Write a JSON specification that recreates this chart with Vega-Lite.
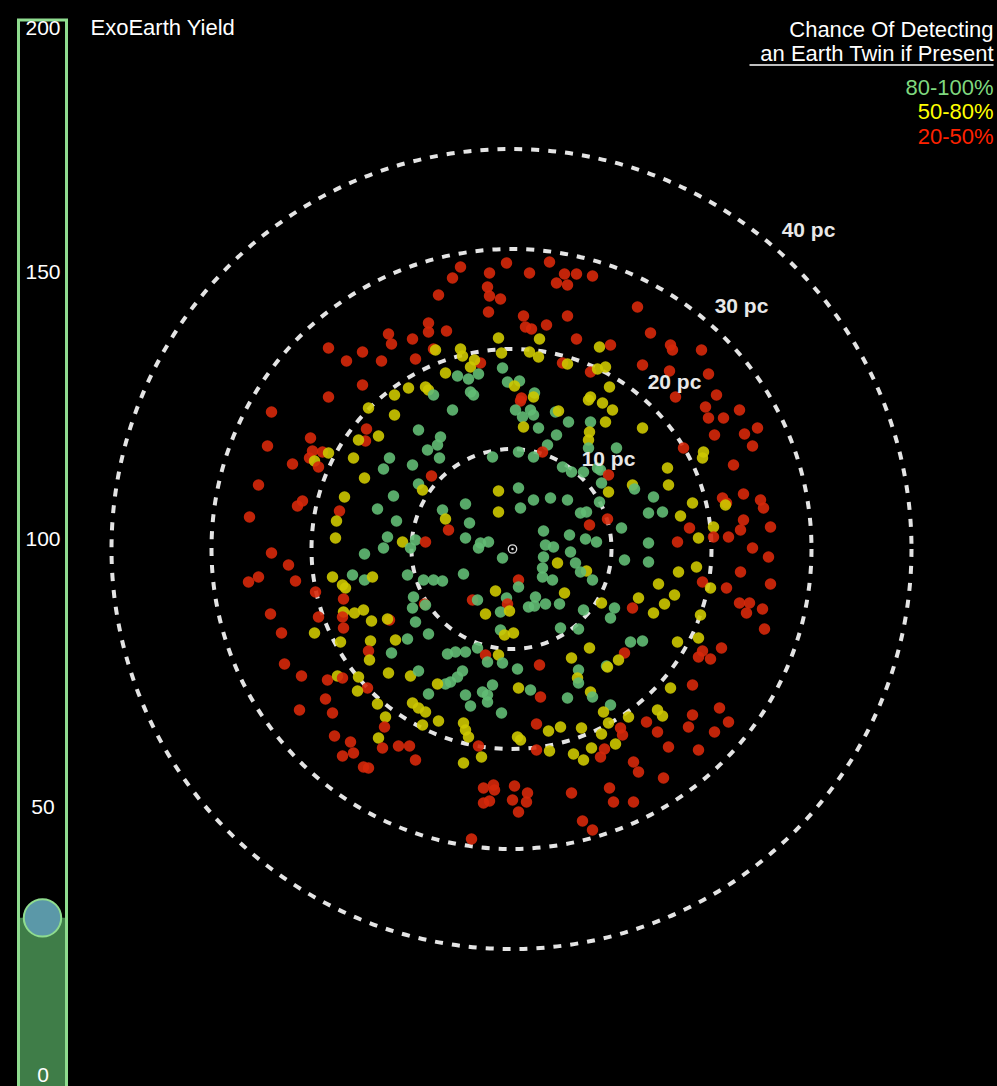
{
"$schema":"https://vega.github.io/schema/vega-lite/v6.json",
"background":"black",
"autosize":{"type":"pad"},
"padding":{"left":16.5,"top":0,"right":0,"bottom":0},
"spacing":0,
"bounds":"flush",
"config":{"view":{"stroke":null},"font":"Liberation Sans","text":{"font":"Liberation Sans"}},
"datasets":{
"pts":[
{"x":-12.3,"y":21.5,"c":"r"},{"x":-12.0,"y":20.5,"c":"r"},{"x":-9.9,"y":21.0,"c":"r"},{"x":-18.3,"y":20.1,"c":"r"},{"x":-14.9,"y":19.7,"c":"r"},{"x":-16.5,"y":18.8,"c":"r"},{"x":-13.0,"y":18.8,"c":"r"},{"x":-9.6,"y":19.0,"c":"r"},{"x":-14.9,"y":16.4,"c":"r"},{"x":-18.3,"y":15.2,"c":"r"},{"x":-10.3,"y":16.1,"c":"y"},{"x":-11.7,"y":15.4,"c":"y"},
{"x":-0.5,"y":28.6,"c":"r"},{"x":-5.1,"y":28.2,"c":"r"},{"x":3.8,"y":28.7,"c":"r"},{"x":-5.9,"y":27.1,"c":"r"},{"x":-2.2,"y":27.6,"c":"r"},{"x":1.8,"y":27.6,"c":"r"},{"x":5.3,"y":27.5,"c":"r"},{"x":6.5,"y":27.5,"c":"r"},{"x":8.1,"y":27.3,"c":"r"},{"x":4.5,"y":26.6,"c":"r"},{"x":5.6,"y":26.4,"c":"r"},{"x":-2.4,"y":26.2,"c":"r"},{"x":-2.2,"y":25.3,"c":"r"},{"x":-1.1,"y":25.0,"c":"r"},{"x":-7.3,"y":25.4,"c":"r"},{"x":-2.3,"y":23.7,"c":"r"},{"x":1.2,"y":23.3,"c":"r"},{"x":5.6,"y":23.3,"c":"r"},{"x":-8.3,"y":22.6,"c":"r"},{"x":1.4,"y":22.2,"c":"r"},{"x":2.0,"y":22.0,"c":"r"},{"x":3.5,"y":22.4,"c":"r"},{"x":-8.3,"y":21.7,"c":"r"},{"x":-6.5,"y":21.8,"c":"r"},{"x":6.5,"y":21.0,"c":"r"},{"x":-1.3,"y":21.1,"c":"y"},{"x":2.8,"y":21.0,"c":"y"},{"x":-7.8,"y":20.0,"c":"r"},{"x":-7.6,"y":19.9,"c":"y"},{"x":-5.1,"y":20.0,"c":"y"},{"x":-4.9,"y":19.3,"c":"y"},{"x":-1.0,"y":19.6,"c":"y"},{"x":1.8,"y":19.7,"c":"y"},{"x":2.7,"y":19.2,"c":"y"},{"x":-4.1,"y":18.2,"c":"y"},{"x":-3.1,"y":18.6,"c":"r"},{"x":-3.7,"y":18.9,"c":"y"},{"x":5.1,"y":18.6,"c":"r"},{"x":5.6,"y":18.5,"c":"y"},{"x":7.9,"y":17.7,"c":"r"},{"x":8.6,"y":18.0,"c":"y"},{"x":8.8,"y":20.2,"c":"y"},{"x":-6.6,"y":17.6,"c":"y"},{"x":-0.9,"y":18.1,"c":"g"},{"x":-5.4,"y":17.3,"c":"g"},{"x":-4.3,"y":17.0,"c":"g"},{"x":-3.3,"y":17.5,"c":"g"},{"x":-0.4,"y":16.7,"c":"g"},{"x":0.8,"y":16.8,"c":"g"},{"x":0.3,"y":16.3,"c":"y"},{"x":-8.6,"y":16.2,"c":"y"},{"x":-8.3,"y":15.9,"c":"y"},{"x":-7.8,"y":15.4,"c":"g"},{"x":-4.1,"y":15.7,"c":"g"},{"x":-3.8,"y":15.4,"c":"g"},{"x":2.3,"y":15.6,"c":"g"},{"x":2.2,"y":15.2,"c":"y"},{"x":1.0,"y":15.1,"c":"r"},{"x":7.9,"y":15.2,"c":"y"},
{"x":12.6,"y":24.2,"c":"r"},{"x":13.9,"y":21.6,"c":"r"},{"x":15.9,"y":20.4,"c":"r"},{"x":16.1,"y":19.9,"c":"r"},{"x":19.0,"y":19.9,"c":"r"},{"x":13.1,"y":18.4,"c":"r"},{"x":15.8,"y":17.8,"c":"r"},{"x":19.7,"y":17.5,"c":"r"},{"x":20.5,"y":15.4,"c":"r"},{"x":16.4,"y":15.2,"c":"r"},{"x":9.9,"y":20.4,"c":"r"},{"x":9.4,"y":18.2,"c":"y"},{"x":9.8,"y":16.2,"c":"y"},
{"x":-24.0,"y":13.7,"c":"r"},{"x":-14.3,"y":14.1,"c":"y"},{"x":-11.7,"y":13.4,"c":"y"},{"x":-14.5,"y":12.0,"c":"r"},{"x":-14.6,"y":10.8,"c":"r"},{"x":-15.3,"y":10.9,"c":"y"},{"x":-13.3,"y":11.3,"c":"y"},{"x":-20.1,"y":11.1,"c":"r"},{"x":-24.4,"y":10.3,"c":"r"},{"x":-19.9,"y":9.8,"c":"r"},{"x":-18.9,"y":9.7,"c":"r"},{"x":-18.3,"y":9.6,"c":"y"},{"x":-20.2,"y":9.1,"c":"r"},{"x":-19.7,"y":8.8,"c":"y"},{"x":-19.3,"y":8.2,"c":"r"},{"x":-21.9,"y":8.5,"c":"r"},{"x":-15.8,"y":9.1,"c":"y"},{"x":-12.2,"y":9.1,"c":"g"},{"x":-12.8,"y":8.0,"c":"g"},{"x":-9.9,"y":8.4,"c":"g"},{"x":-9.3,"y":11.9,"c":"g"},{"x":-14.7,"y":7.1,"c":"y"},{"x":-9.3,"y":6.5,"c":"g"},{"x":-25.3,"y":6.4,"c":"r"},{"x":-20.9,"y":4.8,"c":"r"},{"x":-21.4,"y":4.3,"c":"r"},{"x":-16.7,"y":5.2,"c":"y"},{"x":-11.8,"y":5.3,"c":"g"},{"x":-13.4,"y":4.0,"c":"g"},{"x":-17.2,"y":3.8,"c":"r"},{"x":-17.5,"y":2.8,"c":"y"},{"x":-11.5,"y":2.8,"c":"g"},{"x":-26.2,"y":3.2,"c":"r"},{"x":-17.6,"y":1.1,"c":"y"},{"x":-12.4,"y":1.2,"c":"g"},{"x":-10.9,"y":0.7,"c":"y"},{"x":-9.6,"y":0.9,"c":"g"},{"x":-12.8,"y":0.1,"c":"g"},
{"x":-5.9,"y":13.9,"c":"g"},{"x":0.9,"y":14.8,"c":"r"},{"x":0.4,"y":13.9,"c":"g"},{"x":1.1,"y":13.2,"c":"g"},{"x":1.9,"y":13.9,"c":"g"},{"x":2.2,"y":13.4,"c":"g"},{"x":4.4,"y":13.7,"c":"g"},{"x":4.7,"y":13.8,"c":"y"},{"x":5.7,"y":12.7,"c":"g"},{"x":1.2,"y":12.2,"c":"y"},{"x":2.7,"y":12.1,"c":"g"},{"x":4.5,"y":11.4,"c":"g"},{"x":-7.1,"y":11.2,"c":"g"},{"x":-7.4,"y":10.4,"c":"g"},{"x":-8.4,"y":9.9,"c":"g"},{"x":-7.2,"y":9.1,"c":"g"},{"x":-1.9,"y":9.2,"c":"g"},{"x":0.7,"y":9.7,"c":"g"},{"x":3.6,"y":10.4,"c":"g"},{"x":3.1,"y":9.7,"c":"r"},{"x":2.2,"y":9.2,"c":"g"},{"x":7.9,"y":12.7,"c":"g"},{"x":7.8,"y":11.7,"c":"y"},{"x":7.7,"y":10.9,"c":"y"},{"x":7.7,"y":14.9,"c":"y"},{"x":7.7,"y":10.1,"c":"g"},{"x":5.1,"y":8.2,"c":"g"},{"x":6.0,"y":7.7,"c":"g"},{"x":7.2,"y":7.7,"c":"g"},{"x":8.6,"y":8.1,"c":"g"},{"x":-8.0,"y":7.3,"c":"r"},{"x":-8.9,"y":5.9,"c":"y"},{"x":0.7,"y":6.1,"c":"g"},{"x":-1.3,"y":5.8,"c":"y"},{"x":-4.6,"y":4.5,"c":"g"},{"x":0.9,"y":4.1,"c":"g"},{"x":2.2,"y":4.9,"c":"g"},{"x":3.9,"y":5.1,"c":"g"},{"x":5.6,"y":4.9,"c":"g"},{"x":-1.3,"y":3.7,"c":"y"},{"x":-6.9,"y":3.9,"c":"g"},{"x":-6.6,"y":3.0,"c":"y"},{"x":6.9,"y":3.6,"c":"g"},{"x":7.5,"y":3.7,"c":"g"},{"x":-6.3,"y":1.9,"c":"r"},{"x":-4.2,"y":2.6,"c":"g"},{"x":7.8,"y":2.4,"c":"r"},{"x":3.2,"y":1.8,"c":"g"},{"x":5.8,"y":1.4,"c":"g"},{"x":-4.6,"y":1.1,"c":"g"},{"x":7.4,"y":1.0,"c":"g"},{"x":8.5,"y":0.7,"c":"g"},{"x":-8.6,"y":0.7,"c":"r"},{"x":-3.1,"y":0.6,"c":"g"},{"x":-2.3,"y":0.7,"c":"g"},{"x":3.4,"y":0.4,"c":"g"},{"x":4.2,"y":0.2,"c":"g"},
{"x":9.1,"y":14.6,"c":"y"},{"x":10.1,"y":13.9,"c":"y"},{"x":9.4,"y":12.7,"c":"y"},{"x":13.1,"y":12.1,"c":"y"},{"x":19.4,"y":14.2,"c":"r"},{"x":19.7,"y":13.1,"c":"r"},{"x":21.2,"y":13.1,"c":"r"},{"x":22.8,"y":13.9,"c":"r"},{"x":24.6,"y":12.1,"c":"r"},{"x":20.3,"y":11.4,"c":"r"},{"x":23.3,"y":11.5,"c":"r"},{"x":24.1,"y":10.3,"c":"r"},{"x":17.2,"y":10.1,"c":"r"},{"x":19.2,"y":9.7,"c":"y"},{"x":19.1,"y":9.1,"c":"y"},{"x":10.5,"y":10.1,"c":"g"},{"x":22.2,"y":8.4,"c":"r"},{"x":15.6,"y":8.1,"c":"y"},{"x":8.9,"y":7.9,"c":"g"},{"x":9.7,"y":7.4,"c":"r"},{"x":9.0,"y":6.6,"c":"g"},{"x":15.7,"y":6.4,"c":"y"},{"x":12.1,"y":6.4,"c":"y"},{"x":12.3,"y":6.0,"c":"g"},{"x":9.7,"y":5.7,"c":"y"},{"x":14.2,"y":5.2,"c":"g"},{"x":18.1,"y":4.6,"c":"y"},{"x":21.1,"y":5.1,"c":"r"},{"x":21.5,"y":4.6,"c":"r"},{"x":21.4,"y":4.4,"c":"y"},{"x":23.2,"y":5.5,"c":"r"},{"x":24.9,"y":4.9,"c":"r"},{"x":25.2,"y":4.1,"c":"r"},{"x":8.8,"y":4.7,"c":"g"},{"x":13.7,"y":3.6,"c":"g"},{"x":15.1,"y":3.7,"c":"g"},{"x":16.9,"y":3.3,"c":"y"},{"x":9.6,"y":3.0,"c":"r"},{"x":11.0,"y":2.1,"c":"g"},{"x":17.8,"y":2.1,"c":"r"},{"x":20.2,"y":2.2,"c":"y"},{"x":20.2,"y":1.2,"c":"r"},{"x":21.7,"y":1.2,"c":"r"},{"x":23.2,"y":2.9,"c":"r"},{"x":22.9,"y":1.9,"c":"r"},{"x":25.9,"y":2.2,"c":"r"},{"x":18.7,"y":1.1,"c":"y"},{"x":16.6,"y":0.7,"c":"r"},{"x":13.7,"y":0.6,"c":"g"},{"x":24.1,"y":0.1,"c":"r"},
{"x":-24.0,"y":-0.4,"c":"r"},{"x":-22.3,"y":-1.6,"c":"r"},{"x":-26.3,"y":-3.3,"c":"r"},{"x":-25.3,"y":-2.8,"c":"r"},{"x":-21.6,"y":-3.2,"c":"r"},{"x":-14.7,"y":-0.5,"c":"g"},{"x":-10.1,"y":0.1,"c":"g"},{"x":-17.9,"y":-2.8,"c":"y"},{"x":-15.9,"y":-2.6,"c":"g"},{"x":-16.9,"y":-3.6,"c":"y"},{"x":-16.6,"y":-3.9,"c":"y"},{"x":-14.7,"y":-3.1,"c":"g"},{"x":-13.9,"y":-2.8,"c":"y"},{"x":-10.4,"y":-2.6,"c":"g"},{"x":-19.6,"y":-4.3,"c":"r"},{"x":-16.8,"y":-5.0,"c":"r"},{"x":-9.8,"y":-4.8,"c":"g"},{"x":-9.9,"y":-5.9,"c":"g"},{"x":-16.8,"y":-6.3,"c":"y"},{"x":-15.7,"y":-6.4,"c":"y"},{"x":-14.8,"y":-6.1,"c":"y"},{"x":-16.9,"y":-6.8,"c":"r"},{"x":-19.3,"y":-6.8,"c":"r"},{"x":-14.0,"y":-7.2,"c":"y"},{"x":-12.2,"y":-7.1,"c":"r"},{"x":-12.4,"y":-7.0,"c":"y"},{"x":-9.6,"y":-7.3,"c":"g"},{"x":-16.8,"y":-7.9,"c":"r"},{"x":-19.7,"y":-8.4,"c":"y"},{"x":-24.1,"y":-6.5,"c":"r"},{"x":-23.0,"y":-8.4,"c":"r"},{"x":-17.1,"y":-9.3,"c":"y"},{"x":-14.1,"y":-9.2,"c":"y"},{"x":-11.6,"y":-9.1,"c":"y"},{"x":-10.4,"y":-9.0,"c":"g"},{"x":-14.3,"y":-10.2,"c":"r"},{"x":-14.2,"y":-11.1,"c":"y"},{"x":-12.0,"y":-10.4,"c":"g"},{"x":-22.7,"y":-11.5,"c":"r"},{"x":-21.0,"y":-12.7,"c":"r"},{"x":-18.4,"y":-13.1,"c":"r"},{"x":-17.4,"y":-12.7,"c":"y"},{"x":-16.9,"y":-12.9,"c":"r"},{"x":-15.3,"y":-12.8,"c":"y"},{"x":-14.4,"y":-13.9,"c":"r"},{"x":-15.4,"y":-14.2,"c":"y"},{"x":-12.3,"y":-12.4,"c":"y"},{"x":-10.1,"y":-12.7,"c":"y"},{"x":-9.3,"y":-12.2,"c":"g"},{"x":-18.6,"y":-15.0,"c":"r"},
{"x":-3.3,"y":0.1,"c":"g"},{"x":-0.9,"y":-0.9,"c":"g"},{"x":3.2,"y":-0.8,"c":"g"},{"x":5.9,"y":-0.3,"c":"g"},{"x":3.1,"y":-1.9,"c":"g"},{"x":4.1,"y":-3.1,"c":"g"},{"x":3.1,"y":-2.8,"c":"g"},{"x":4.6,"y":-1.4,"c":"y"},{"x":6.4,"y":-1.4,"c":"g"},{"x":7.5,"y":-2.2,"c":"y"},{"x":6.9,"y":-2.3,"c":"g"},{"x":8.1,"y":-3.1,"c":"g"},{"x":-4.8,"y":-2.5,"c":"g"},{"x":-8.8,"y":-3.1,"c":"g"},{"x":-7.8,"y":-3.1,"c":"g"},{"x":-6.9,"y":-3.2,"c":"g"},{"x":0.7,"y":-3.1,"c":"r"},{"x":0.7,"y":-3.8,"c":"g"},{"x":-1.6,"y":-4.2,"c":"y"},{"x":2.4,"y":-4.8,"c":"g"},{"x":1.7,"y":-5.8,"c":"g"},{"x":2.3,"y":-5.7,"c":"g"},{"x":3.4,"y":-5.5,"c":"g"},{"x":4.8,"y":-5.5,"c":"g"},{"x":5.3,"y":-4.4,"c":"y"},{"x":-3.9,"y":-5.1,"c":"r"},{"x":-3.4,"y":-5.1,"c":"g"},{"x":-0.5,"y":-4.9,"c":"g"},{"x":-0.4,"y":-5.5,"c":"r"},{"x":-2.6,"y":-6.5,"c":"y"},{"x":-1.1,"y":-6.3,"c":"g"},{"x":-0.2,"y":-6.2,"c":"y"},{"x":7.2,"y":-6.1,"c":"g"},{"x":-8.7,"y":-5.5,"c":"r"},{"x":-8.6,"y":-5.6,"c":"g"},{"x":-8.3,"y":-8.5,"c":"g"},{"x":-1.1,"y":-8.1,"c":"g"},{"x":-0.7,"y":-8.6,"c":"y"},{"x":0.2,"y":-8.4,"c":"y"},{"x":4.9,"y":-7.9,"c":"g"},{"x":6.7,"y":-8.0,"c":"g"},{"x":-3.4,"y":-9.9,"c":"g"},{"x":-4.6,"y":-10.3,"c":"g"},{"x":-5.6,"y":-10.3,"c":"g"},{"x":-6.4,"y":-10.5,"c":"g"},{"x":-2.6,"y":-10.6,"c":"r"},{"x":-2.4,"y":-11.3,"c":"g"},{"x":-1.3,"y":-10.6,"c":"y"},{"x":-0.9,"y":-11.4,"c":"g"},{"x":2.8,"y":-11.6,"c":"r"},{"x":6.0,"y":-10.9,"c":"y"},{"x":7.8,"y":-9.9,"c":"y"},{"x":0.6,"y":-12.0,"c":"g"},{"x":-4.9,"y":-12.2,"c":"g"},{"x":-5.4,"y":-12.8,"c":"g"},{"x":-6.1,"y":-13.3,"c":"g"},{"x":-6.6,"y":-13.5,"c":"g"},{"x":-7.4,"y":-13.5,"c":"y"},{"x":-8.3,"y":-14.5,"c":"g"},{"x":-4.6,"y":-14.6,"c":"g"},{"x":-1.9,"y":-13.6,"c":"g"},{"x":-2.9,"y":-14.3,"c":"g"},{"x":-2.4,"y":-14.6,"c":"g"},{"x":0.7,"y":-13.9,"c":"y"},{"x":1.9,"y":-14.1,"c":"g"},{"x":6.7,"y":-12.1,"c":"g"},{"x":6.6,"y":-12.9,"c":"y"},{"x":6.7,"y":-13.4,"c":"g"},{"x":7.9,"y":-14.3,"c":"y"},{"x":2.9,"y":-14.8,"c":"r"},{"x":5.6,"y":-14.9,"c":"g"},
{"x":11.3,"y":-1.1,"c":"g"},{"x":13.7,"y":-1.3,"c":"g"},{"x":16.7,"y":-2.3,"c":"y"},{"x":18.5,"y":-1.8,"c":"y"},{"x":19.1,"y":-3.3,"c":"r"},{"x":19.9,"y":-3.9,"c":"y"},{"x":21.5,"y":-3.9,"c":"r"},{"x":25.7,"y":-0.8,"c":"r"},{"x":22.9,"y":-2.3,"c":"r"},{"x":25.9,"y":-3.5,"c":"r"},{"x":22.8,"y":-5.4,"c":"r"},{"x":23.8,"y":-5.4,"c":"r"},{"x":23.5,"y":-6.4,"c":"r"},{"x":25.1,"y":-6.0,"c":"r"},{"x":25.3,"y":-8.0,"c":"r"},{"x":14.7,"y":-3.5,"c":"y"},{"x":16.3,"y":-4.6,"c":"y"},{"x":12.7,"y":-4.9,"c":"y"},{"x":15.3,"y":-5.5,"c":"y"},{"x":14.2,"y":-6.4,"c":"y"},{"x":12.1,"y":-5.9,"c":"r"},{"x":9.0,"y":-5.4,"c":"y"},{"x":10.3,"y":-5.9,"c":"g"},{"x":9.9,"y":-6.9,"c":"g"},{"x":18.9,"y":-6.6,"c":"y"},{"x":18.7,"y":-8.9,"c":"y"},{"x":16.6,"y":-9.3,"c":"y"},{"x":11.9,"y":-9.3,"c":"g"},{"x":13.1,"y":-9.2,"c":"g"},{"x":11.3,"y":-10.4,"c":"r"},{"x":10.7,"y":-11.1,"c":"y"},{"x":9.5,"y":-11.7,"c":"g"},{"x":9.6,"y":-11.8,"c":"y"},{"x":19.1,"y":-10.2,"c":"r"},{"x":18.7,"y":-10.8,"c":"r"},{"x":19.9,"y":-11.0,"c":"r"},{"x":21.0,"y":-9.9,"c":"r"},{"x":15.9,"y":-13.9,"c":"y"},{"x":18.1,"y":-13.6,"c":"r"},
{"x":-21.2,"y":-16.1,"c":"r"},{"x":-17.9,"y":-16.4,"c":"r"},{"x":-17.7,"y":-18.7,"c":"r"},{"x":-16.1,"y":-19.3,"c":"r"},{"x":-16.9,"y":-20.7,"c":"r"},{"x":-15.8,"y":-20.4,"c":"r"},{"x":-14.8,"y":-21.8,"c":"r"},{"x":-14.3,"y":-21.9,"c":"r"},{"x":-13.4,"y":-15.5,"c":"y"},{"x":-12.6,"y":-16.8,"c":"y"},{"x":-12.7,"y":-17.8,"c":"r"},{"x":-13.3,"y":-18.9,"c":"y"},{"x":-12.9,"y":-19.9,"c":"r"},{"x":-11.3,"y":-19.7,"c":"r"},{"x":-10.2,"y":-19.7,"c":"r"},{"x":-9.6,"y":-21.1,"c":"r"},{"x":-9.9,"y":-15.4,"c":"y"},{"x":-9.3,"y":-15.9,"c":"y"},
{"x":-4.1,"y":-15.7,"c":"g"},{"x":-2.4,"y":-15.3,"c":"g"},{"x":-1.0,"y":-16.4,"c":"g"},{"x":8.1,"y":-14.8,"c":"g"},{"x":-8.6,"y":-16.3,"c":"y"},{"x":-7.3,"y":-17.2,"c":"y"},{"x":-8.9,"y":-17.6,"c":"y"},{"x":-4.8,"y":-17.4,"c":"y"},{"x":-4.6,"y":-18.1,"c":"y"},{"x":-4.3,"y":-18.8,"c":"y"},{"x":-3.3,"y":-19.7,"c":"r"},{"x":-3.0,"y":-20.8,"c":"y"},{"x":-4.8,"y":-21.4,"c":"y"},{"x":2.5,"y":-17.5,"c":"r"},{"x":3.7,"y":-18.2,"c":"y"},{"x":4.9,"y":-17.8,"c":"y"},{"x":0.6,"y":-18.8,"c":"y"},{"x":0.9,"y":-19.1,"c":"y"},{"x":2.5,"y":-20.1,"c":"r"},{"x":3.8,"y":-20.2,"c":"y"},{"x":7.0,"y":-17.9,"c":"y"},{"x":6.2,"y":-20.5,"c":"y"},{"x":7.2,"y":-21.1,"c":"y"},{"x":8.0,"y":-19.9,"c":"y"},{"x":8.9,"y":-20.8,"c":"r"},{"x":-1.8,"y":-23.6,"c":"r"},{"x":-1.7,"y":-24.1,"c":"r"},{"x":-2.8,"y":-23.9,"c":"r"},{"x":0.3,"y":-23.7,"c":"r"},{"x":1.6,"y":-24.4,"c":"r"},{"x":0.1,"y":-25.1,"c":"r"},{"x":-2.8,"y":-25.4,"c":"r"},{"x":-2.2,"y":-25.2,"c":"r"},{"x":1.5,"y":-25.3,"c":"r"},{"x":0.7,"y":-26.3,"c":"r"},{"x":6.0,"y":-24.4,"c":"r"},{"x":7.1,"y":-27.2,"c":"r"},{"x":8.1,"y":-28.1,"c":"r"},{"x":-4.0,"y":-29.0,"c":"r"},
{"x":9.9,"y":-15.6,"c":"g"},{"x":9.2,"y":-16.3,"c":"y"},{"x":11.7,"y":-16.8,"c":"y"},{"x":14.6,"y":-16.1,"c":"y"},{"x":15.1,"y":-16.7,"c":"y"},{"x":9.7,"y":-17.4,"c":"y"},{"x":9.0,"y":-18.5,"c":"y"},{"x":10.9,"y":-17.9,"c":"r"},{"x":11.1,"y":-18.6,"c":"r"},{"x":10.4,"y":-19.5,"c":"y"},{"x":9.3,"y":-20.0,"c":"r"},{"x":13.5,"y":-17.3,"c":"r"},{"x":14.6,"y":-18.3,"c":"r"},{"x":15.7,"y":-19.8,"c":"r"},{"x":18.1,"y":-16.6,"c":"r"},{"x":17.7,"y":-17.8,"c":"r"},{"x":20.8,"y":-15.9,"c":"r"},{"x":21.7,"y":-17.3,"c":"r"},{"x":20.3,"y":-18.3,"c":"r"},{"x":18.7,"y":-20.1,"c":"r"},{"x":12.2,"y":-21.3,"c":"r"},{"x":12.7,"y":-22.3,"c":"r"},{"x":15.2,"y":-22.9,"c":"r"},{"x":9.8,"y":-23.9,"c":"r"},{"x":10.2,"y":-25.3,"c":"r"},{"x":12.2,"y":-25.3,"c":"r"}
],
"rings":[{"x":0,"y":0,"r":10},{"x":0,"y":0,"r":20},{"x":0,"y":0,"r":30},{"x":0,"y":0,"r":40}],
"ringlabels":[{"x":9.7,"y":8.9,"t":"10 pc"},{"x":16.3,"y":16.6,"t":"20 pc"},{"x":23.0,"y":24.2,"t":"30 pc"},{"x":29.7,"y":31.8,"t":"40 pc"}]
},
"hconcat":[
{
"width":48,"height":1086,
"layer":[
{"data":{"values":[{"v":29.5}]},"mark":{"type":"rect","fill":"#3f7d48"},
 "encoding":{"y":{"field":"v","type":"quantitative","scale":{"domain":[-1.87,200.75],"nice":false,"zero":false},
  "axis":{"values":[0,50,100,150,200],"orient":"left","zindex":2,"domain":false,"ticks":false,"tickSize":0,"grid":false,"title":null,"labelAlign":"center","labelBaseline":"middle","labelPadding":-24,"labelColor":"white","labelFontSize":21,"labelFont":"Liberation Sans","labelFlush":false,"labelOverlap":false,"labelBound":false,"labelOffset":{"condition":{"test":"datum.value == 200","value":24},"value":0}}},
  "y2":{"datum":-6}}},
{"data":{"values":[{"v":197}]},"mark":{"type":"rect","fill":null,"filled":false,"stroke":"#8fdc8f","strokeWidth":3},
 "encoding":{"y":{"field":"v","type":"quantitative"},"y2":{"datum":-6}}},
{"data":{"values":[{"v":29.5}]},"mark":{"type":"point","shape":"circle","filled":true,"size":1400,"fill":"#5b98a8","stroke":"#8fdc8f","strokeWidth":2,"opacity":1},
 "encoding":{"y":{"field":"v","type":"quantitative"}}}
]
},
{
"width":931,"height":1086,
"layer":[
{"data":{"name":"rings"},"mark":{"type":"point","shape":"circle","filled":false,"stroke":"#e4e4e4","strokeWidth":4,"strokeDash":[8,9],"opacity":1},
 "encoding":{
  "x":{"field":"x","type":"quantitative","scale":{"domain":[-44.5,48.6],"nice":false,"zero":false},"axis":null},
  "y":{"field":"y","type":"quantitative","scale":{"domain":[-53.7,54.9],"nice":false,"zero":false},"axis":null},
  "size":{"field":"r","type":"quantitative","scale":{"type":"pow","exponent":2,"domain":[0,40],"range":[0,640000]},"legend":null}}},
{"data":{"name":"pts"},"mark":{"type":"circle","size":132,"opacity":0.9},
 "encoding":{
  "x":{"field":"x","type":"quantitative"},
  "y":{"field":"y","type":"quantitative"},
  "color":{"field":"c","type":"nominal","scale":{"domain":["g","y","r"],"range":["#62bb74","#cdc800","#d6280a"]},"legend":null}}},
{"data":{"values":[{"x":0.1,"y":0}]},"mark":{"type":"point","shape":"circle","filled":false,"size":70,"stroke":"#dddddd","strokeWidth":1.3,"opacity":1},
 "encoding":{"x":{"field":"x","type":"quantitative"},"y":{"field":"y","type":"quantitative"}}},
{"data":{"values":[{"x":0.1,"y":0}]},"mark":{"type":"circle","size":6,"color":"#dddddd","opacity":1},
 "encoding":{"x":{"field":"x","type":"quantitative"},"y":{"field":"y","type":"quantitative"}}},
{"data":{"name":"ringlabels"},"mark":{"type":"text","fontSize":21,"fontWeight":"bold","color":"#e8e8e8","align":"center","baseline":"middle"},
 "encoding":{"x":{"field":"x","type":"quantitative"},"y":{"field":"y","type":"quantitative"},"text":{"field":"t"}}},
{"data":{"values":[{"x":-42.1,"y":52.1,"t":"ExoEarth Yield"}]},"mark":{"type":"text","fontSize":22,"color":"white","align":"left","baseline":"middle"},
 "encoding":{"x":{"field":"x","type":"quantitative"},"y":{"field":"y","type":"quantitative"},"text":{"field":"t"}}},
{"data":{"values":[{"x":48.2,"y":51.9,"t":"Chance Of Detecting"},{"x":48.2,"y":49.5,"t":"an Earth Twin if Present"}]},"mark":{"type":"text","fontSize":22,"color":"white","align":"right","baseline":"middle"},
 "encoding":{"x":{"field":"x","type":"quantitative"},"y":{"field":"y","type":"quantitative"},"text":{"field":"t"}}},
{"data":{"values":[{"x":23.8,"x2":48.2,"y":48.4}]},"mark":{"type":"rule","color":"white","strokeWidth":1.5},
 "encoding":{"x":{"field":"x","type":"quantitative"},"x2":{"field":"x2"},"y":{"field":"y","type":"quantitative"}}},
{"data":{"values":[{"x":48.2,"y":46.1,"t":"80-100%"}]},"mark":{"type":"text","fontSize":22,"color":"#7fd87f","align":"right","baseline":"middle"},
 "encoding":{"x":{"field":"x","type":"quantitative"},"y":{"field":"y","type":"quantitative"},"text":{"field":"t"}}},
{"data":{"values":[{"x":48.2,"y":43.7,"t":"50-80%"}]},"mark":{"type":"text","fontSize":22,"color":"#ffff00","align":"right","baseline":"middle"},
 "encoding":{"x":{"field":"x","type":"quantitative"},"y":{"field":"y","type":"quantitative"},"text":{"field":"t"}}},
{"data":{"values":[{"x":48.2,"y":41.2,"t":"20-50%"}]},"mark":{"type":"text","fontSize":22,"color":"#ff2200","align":"right","baseline":"middle"},
 "encoding":{"x":{"field":"x","type":"quantitative"},"y":{"field":"y","type":"quantitative"},"text":{"field":"t"}}}
]
}
]
}
